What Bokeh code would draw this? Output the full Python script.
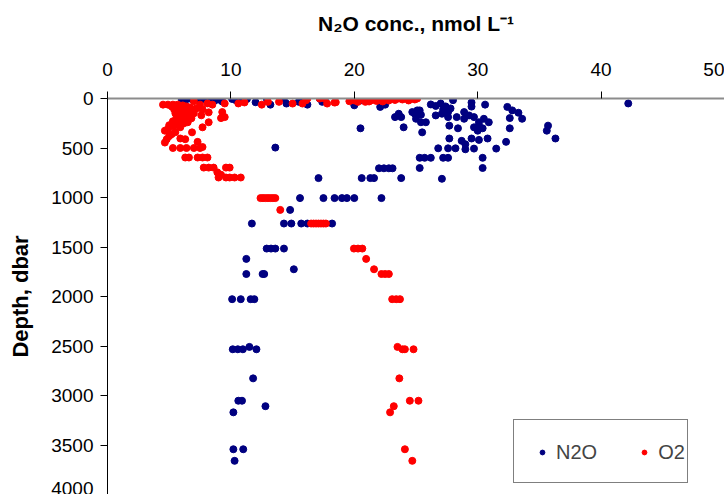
from bokeh.plotting import figure
from bokeh.models import Range1d, FixedTicker, Legend, LegendItem, ColumnDataSource
from bokeh.embed import file_html
from bokeh.resources import INLINE

# ---- data ----
n2o_conc = [
    6.0, 6.3, 6.6, 6.9, 7.2, 7.5, 7.8, 8.1, 8.4, 8.7, 9.0, 9.3, 10.1, 10.4, 10.7, 11.0, 11.3,
    12.0, 12.9, 13.2, 14.3, 14.5, 15.5, 15.9, 16.2, 17.2, 17.4, 17.6, 20.0, 20.6, 22.1, 22.5,
    23.6, 23.3, 23.8, 24.0, 24.9, 25.3, 25.0, 25.4, 25.5, 20.5, 13.6,
    28.0, 29.5, 29.5, 30.6, 26.2, 26.6, 27.0, 27.4, 27.8, 27.2, 32.4, 32.8, 33.3, 33.6,
    24.7, 25.1, 25.4, 25.8, 26.6, 27.1, 27.6, 27.6, 28.3, 28.9, 28.9, 29.3, 29.7, 30.1,
    30.5, 30.9, 27.7, 28.4, 29.7, 30.1, 30.4, 30.0, 32.6, 32.6, 27.7, 28.7, 29.0, 29.5,
    30.1, 30.8, 29.0, 29.7, 31.5, 32.3, 26.8, 27.6, 28.2, 25.3, 25.7, 26.2, 27.2, 27.6,
    30.4, 25.3, 30.4, 27.1, 35.7, 35.6, 36.3, 42.2,
    22.0, 22.4, 22.8, 23.1, 17.1, 20.6, 21.3, 21.6, 23.8,
    15.6, 17.5, 18.4, 19.0, 19.4, 20.0, 22.2, 14.8, 11.7, 14.3, 14.9, 15.7, 16.2, 18.2,
    12.9, 13.25, 13.6, 14.3, 11.25, 15.1, 11.25, 12.57, 12.7, 10.1, 10.8, 11.6, 11.9,
    10.15, 10.56, 10.97, 12.07, 11.5, 11.8, 10.6, 10.9, 12.8, 10.2, 10.2, 11.0, 10.3,
]
n2o_depth = [
    0, 17, 0, 10, 0, 17, 5, 17, 0, 20, 10, 30, 5, 17, 0, 10, 5,
    38, 0, 62, 0, 51, 34, 17, 62, 0, 34, 10, 69, 17, 85, 62,
    154, 188, 188, 291, 154, 120, 205, 240, 342, 301, 496,
    17, 41, 82, 62, 60, 75, 50, 80, 100, 110, 85, 120, 144, 205,
    137, 120, 164, 240, 171, 154, 137, 188, 188, 137, 205, 171, 188, 240,
    205, 240, 274, 301, 291, 274, 301, 325, 198, 301, 404, 428, 462, 404,
    418, 404, 513, 506, 506, 438, 503, 503, 503, 599, 599, 599, 599, 599,
    599, 702, 702, 811, 274, 325, 404, 50,
    705, 705, 705, 705, 804, 804, 804, 804, 804,
    1006, 1006, 1006, 1006, 1006, 1006, 1006, 1125, 1263, 1263, 1263, 1263, 1263, 1263,
    1516, 1516, 1516, 1516, 1620, 1725, 1773, 1773, 1773, 2027, 2027, 2027, 2027,
    2533, 2533, 2533, 2533, 2509, 2827, 3053, 3053, 3108, 3170, 3543, 3543, 3660,
]

o2_conc = [
    4.5, 4.9, 5.3, 5.7, 7.0, 7.5, 8.1, 8.5, 9.5, 10.6, 11.1, 12.5, 13.0, 13.9, 15.0, 15.8,
    16.1, 16.2, 17.2, 17.6, 17.8, 18.4, 18.5, 19.6, 19.8, 20.3, 20.9, 21.4, 22.0, 22.5, 23.1,
    23.6, 24.2, 24.7, 25.1, 20.5, 21.0, 21.8, 22.8, 23.3, 23.9, 24.4, 24.9, 20.0, 21.2, 22.3,
    5.2, 5.5, 5.8, 6.1, 6.4, 6.7, 5.4, 5.7, 6.0, 6.3, 6.6, 6.9, 7.2, 5.5, 5.8, 6.1, 6.4,
    6.7, 7.0, 5.6, 5.9, 6.2, 6.5, 6.8, 5.3, 5.6, 5.9, 6.2, 6.5, 5.0, 5.3, 5.6, 5.9, 7.7,
    8.2, 7.6, 9.3, 9.5, 9.2, 8.2, 7.7, 4.65, 4.9, 4.8, 4.65, 5.2, 5.9, 6.3, 6.85, 7.3,
    5.0, 5.5,
    5.3, 5.9, 6.4, 7.0, 7.5, 7.7, 6.3, 6.6, 7.3, 7.7, 8.1, 7.8, 8.2, 8.6, 9.6, 9.9,
    8.9, 9.2, 9.0, 9.6, 9.9, 10.3, 10.8,
    12.4, 12.6, 12.8, 13.0, 13.2, 13.4, 13.6, 14.0,
    16.5, 16.7, 16.9, 17.1, 17.3, 17.5, 17.7,
    19.97, 20.3, 20.65, 20.96, 21.6, 22.2, 22.5, 22.8, 23.07, 23.4, 23.7,
    23.5, 23.9, 24.1, 24.8, 23.65, 24.5, 25.2, 23.2, 22.9, 24.1, 24.7,
]
o2_depth = [
    62, 62, 62, 62, 27, 62, 50, 62, 50, 50, 40, 62, 34, 34, 51, 51,
    17, 0, 0, 0, 51, 41, 38, 27, 10, 34, 34, 17, 17, 0, 0,
    0, 0, 0, 0, 10, 5, 25, 20, 15, 10, 20, 10, 20, 30, 30,
    80, 70, 80, 70, 80, 90, 110, 120, 110, 120, 110, 130, 100, 150, 160, 150, 160,
    170, 150, 190, 200, 190, 210, 200, 230, 240, 230, 250, 240, 270, 280, 270, 290, 110,
    140, 170, 137, 188, 198, 240, 291, 325, 308, 411, 445, 360, 404, 411, 342, 438,
    380, 340,
    500, 500, 500, 500, 500, 490, 596, 596, 596, 596, 596, 698, 698, 698, 698, 698,
    746, 770, 798, 798, 798, 798, 798,
    1006, 1006, 1006, 1006, 1006, 1006, 1006, 1125,
    1263, 1263, 1263, 1263, 1263, 1263, 1263,
    1516, 1516, 1516, 1620, 1725, 1773, 1773, 1773, 2027, 2027, 2027,
    2509, 2533, 2533, 2533, 2827, 3053, 3053, 3108, 3170, 3543, 3660,
]

x_ticks = [0, 10, 20, 30, 40, 50]
y_ticks = [0, 500, 1000, 1500, 2000, 2500, 3000, 3500, 4000]
series_names = ["N2O", "O2"]
series_colors = ["#000080", "#FF0000"]

FONT = "Liberation Sans"

p = figure(
    width=724, height=494,
    x_range=Range1d(0, 50), y_range=Range1d(4000, 0),
    x_axis_location="above",
    output_backend="svg", toolbar_location=None,
    min_border_left=107, min_border_right=0, min_border_top=98, min_border_bottom=0,
)
p.outline_line_color = None
p.xgrid.visible = False
p.ygrid.visible = False
p.background_fill_color = "white"
p.border_fill_color = "white"

p.xaxis.ticker = FixedTicker(ticks=x_ticks)
p.yaxis.ticker = FixedTicker(ticks=y_ticks)
p.xaxis.minor_tick_line_color = None
p.yaxis.minor_tick_line_color = None

for ax in (p.xaxis, p.yaxis):
    ax.major_tick_out = 7
    ax.major_tick_in = 0
    ax.major_tick_line_color = "black"
    ax.major_label_text_font = FONT
    ax.major_label_text_font_size = "19px"
    ax.major_label_text_color = "black"
    ax.axis_label_text_font = FONT
    ax.axis_label_text_font_style = "bold"
    ax.axis_label_text_color = "black"

p.xaxis.axis_label_text_font_size = "21px"
p.yaxis.axis_label_text_font_size = "22px"

p.xaxis.axis_line_color = "#8c8c8c"
p.xaxis.axis_line_width = 2
p.yaxis.axis_line_color = "black"
p.yaxis.axis_line_width = 1

p.xaxis.axis_label = "N\u2082O conc., nmol L\u207b\u00b9"
p.yaxis.axis_label = "Depth, dbar"
p.xaxis.major_label_standoff = 16
p.xaxis.axis_label_standoff = 25
p.yaxis.major_label_standoff = 7
p.yaxis.axis_label_standoff = 15

src_n2o = ColumnDataSource(dict(x=n2o_conc, y=n2o_depth))
src_o2 = ColumnDataSource(dict(x=o2_conc, y=o2_depth))

# invisible renderer used only to give the legend frame its box
frame_r = p.scatter("x", "y", source=src_n2o, size=1, alpha=0)

# legend proxies: smaller markers on the same data, hidden under the main markers
leg_items = []
for name, col, src in zip(series_names, series_colors, (src_n2o, src_o2)):
    r = p.scatter("x", "y", source=src, size=5, color=col, marker="circle")
    leg_items.append(LegendItem(label=name, renderers=[r]))

p.scatter("x", "y", source=src_n2o, size=7, color=series_colors[0], marker="circle")
p.scatter("x", "y", source=src_o2, size=7, color=series_colors[1], marker="circle")

# outer legend frame (box only)
legend_box = Legend(
    items=[LegendItem(label=" ", renderers=[frame_r])], location=(406, 11),
    padding=0, spacing=0, margin=0, label_standoff=0, glyph_width=1, glyph_height=62,
    label_width=172, label_height=62,
    label_text_font=FONT, label_text_font_size="20px",
    border_line_color="black", border_line_width=1,
    background_fill_color="white", background_fill_alpha=1.0,
)
p.add_layout(legend_box, "center")

# legend entries (no own border)
legend = Legend(
    items=leg_items, orientation="horizontal", location=(419, 11),
    padding=10, spacing=41, margin=0, label_standoff=8, glyph_width=12, glyph_height=42,
    label_height=42,
    label_text_font=FONT, label_text_font_size="20px",
    border_line_alpha=0, background_fill_alpha=0,
)
p.add_layout(legend, "center")

open("out.html", "w").write(file_html(p, INLINE))
